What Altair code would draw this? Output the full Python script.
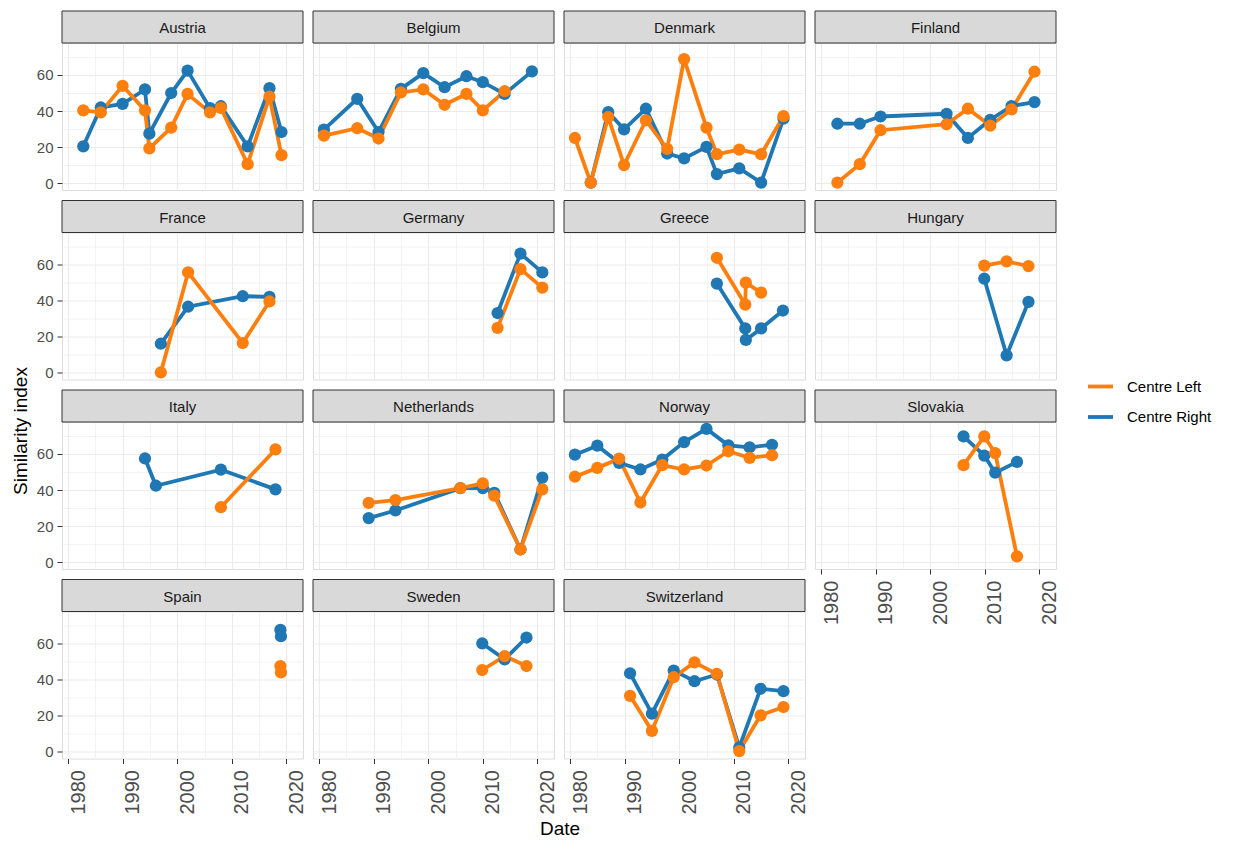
import altair as alt
import pandas as pd

# ---------------- data ----------------
SERIES = ["Centre Left", "Centre Right"]
SERIES_COLORS = ["#FF7F0E", "#1F77B4"]

COLUMNS = [
    ["Austria", "France", "Italy", "Spain"],
    ["Belgium", "Germany", "Netherlands", "Sweden"],
    ["Denmark", "Greece", "Norway", "Switzerland"],
    ["Finland", "Hungary", "Slovakia"],
]

austria_date = [1982.8, 1986.0, 1990.0, 1994.1, 1994.9, 1998.9, 2001.9, 2006.0, 2008.0, 2012.9, 2016.9, 2019.1]
austria_left = [40.4, 39.3, 54.0, 40.4, 19.3, 30.8, 49.5, 39.3, 41.8, 10.6, 48.0, 15.6]
austria_right = [20.5, 42.0, 44.0, 52.0, 27.5, 50.0, 62.4, 41.6, 42.7, 20.5, 52.7, 28.4]

belgium_date = [1980.9, 1987.0, 1990.9, 1995.0, 1999.1, 2003.0, 2007.0, 2010.0, 2014.0, 2019.0]
belgium_left = [26.4, 30.5, 24.8, 50.3, 52.0, 43.5, 49.5, 40.4, 51.0, None]
belgium_right = [29.7, 46.8, 28.4, 52.3, 61.0, 53.2, 59.3, 56.0, 49.5, 62.0]

denmark_date = [1980.9, 1983.8, 1987.0, 1989.9, 1993.9, 1997.8, 2000.9, 2005.0, 2006.9, 2011.0, 2015.0, 2019.1]
denmark_left = [25.1, 0.4, 36.7, 10.1, 34.9, 19.1, 68.8, 30.8, 16.1, 18.7, 16.1, 37.2]
denmark_right = [None, 0.4, 39.4, 29.9, 41.3, 16.5, 13.8, 20.2, 5.1, 8.3, 0.4, 35.8]

finland_date = [1983.0, 1987.1, 1990.9, 2003.0, 2006.9, 2011.0, 2014.9, 2019.1]
finland_left = [0.4, 10.6, 29.4, 32.7, 41.3, 31.9, 40.9, 61.8]
finland_right = [33.0, 33.0, 37.0, 38.5, 25.1, 35.2, 42.8, 45.0]

france_date = [1997.0, 2002.0, 2012.0, 2016.9]
france_left = [0.2, 55.6, 16.5, 39.5]
france_right = [16.1, 36.6, 42.4, 42.1]

germany_date = [2012.7, 2016.9, 2020.9]
germany_left = [24.9, 57.4, 47.2]
germany_right = [33.1, 66.0, 55.6]

greece_date = [2006.9, 2012.1, 2012.2, 2015.0, 2019.0]
greece_left = [63.7, 37.8, 49.9, 44.4, None]
greece_right = [49.4, 24.6, 18.2, 24.6, 34.5]

hungary_date = [2009.9, 2014.0, 2018.0]
hungary_left = [59.4, 61.7, 59.1]
hungary_right = [52.1, 9.7, 39.3]

italy_date = [1994.1, 1996.1, 2008.0, 2018.0]
italy_left = [None, None, 30.5, 62.5]
italy_right = [57.5, 42.4, 51.3, 40.4]

netherlands_date = [1989.1, 1994.0, 2005.9, 2010.0, 2012.1, 2016.9, 2020.9]
netherlands_left = [32.9, 34.5, 41.1, 43.7, 36.9, 7.1, 40.4]
netherlands_right = [24.5, 28.7, 41.1, 41.1, 38.5, 7.1, 46.9]

norway_date = [1980.9, 1985.0, 1989.0, 1992.9, 1996.9, 2000.9, 2005.0, 2009.0, 2012.9, 2017.0]
norway_left = [47.4, 52.3, 57.4, 33.1, 53.8, 51.4, 53.6, 61.5, 57.8, 59.3]
norway_right = [59.6, 64.6, 55.1, 51.4, 56.9, 66.6, 73.9, 64.8, 63.7, 65.1]

slovakia_date = [2006.1, 2009.9, 2011.9, 2015.9]
slovakia_left = [53.8, 69.7, 60.5, 3.3]
slovakia_right = [69.7, 59.1, 49.6, 55.6]

spain_date = [2018.9, 2019.0]
spain_left = [47.5, 44.0]
spain_right = [67.5, 64.0]

sweden_date = [2009.9, 2014.0, 2018.0]
sweden_left = [45.3, 53.0, 47.5]
sweden_right = [60.0, 51.2, 63.3]

switzerland_date = [1991.0, 1995.0, 1999.0, 2002.8, 2006.9, 2011.0, 2014.9, 2019.1]
switzerland_left = [31.0, 11.6, 41.3, 49.5, 43.1, 0.4, 20.2, 24.8]
switzerland_right = [43.5, 21.1, 45.0, 39.1, 42.8, 2.4, 34.9, 33.6]

X_TICKS = list(range(1980, 2021, 5))
Y_TICKS = list(range(0, 71, 10))

country_series = {
    "Austria": (austria_date, austria_left, austria_right),
    "Belgium": (belgium_date, belgium_left, belgium_right),
    "Denmark": (denmark_date, denmark_left, denmark_right),
    "Finland": (finland_date, finland_left, finland_right),
    "France": (france_date, france_left, france_right),
    "Germany": (germany_date, germany_left, germany_right),
    "Greece": (greece_date, greece_left, greece_right),
    "Hungary": (hungary_date, hungary_left, hungary_right),
    "Italy": (italy_date, italy_left, italy_right),
    "Netherlands": (netherlands_date, netherlands_left, netherlands_right),
    "Norway": (norway_date, norway_left, norway_right),
    "Slovakia": (slovakia_date, slovakia_left, slovakia_right),
    "Spain": (spain_date, spain_left, spain_right),
    "Sweden": (sweden_date, sweden_left, sweden_right),
    "Switzerland": (switzerland_date, switzerland_left, switzerland_right),
}

rows = []
for country, (dates, left, right) in country_series.items():
    for d, v in zip(dates, left):
        if v is not None:
            rows.append({"country": country, "series": "Centre Left", "date": d, "value": v})
    for d, v in zip(dates, right):
        if v is not None:
            rows.append({"country": country, "series": "Centre Right", "date": d, "value": v})
df = pd.DataFrame(rows)

# ---------------- styling ----------------
FONT = "Liberation Sans"
PW, PH, SH = 241, 147, 32
X_DOMAIN = [1978.9, 2023.04]
Y_DOMAIN = [-3.7, 77.7]
MAJOR_X = "datum.value % 10 === 0"
MAJOR_Y = "datum.value % 20 === 0"
NO_STROKE = alt.ViewBackground(stroke="transparent")

color_scale = alt.Scale(domain=SERIES, range=SERIES_COLORS)
LEGEND = alt.Legend(
    title=None, orient="none", legendX=1077, legendY=329,
    symbolType="stroke", symbolStrokeWidth=3.8, symbolSize=625,
    labelFont=FONT, labelFontSize=15, labelColor="#000000",
    labelOffset=12, rowPadding=7.5, padding=0,
)


def x_axis(show):
    kw = dict(values=X_TICKS, grid=True, gridColor="#EBEBEB",
              gridWidth={"condition": {"test": MAJOR_X, "value": 1.1}, "value": 0.6},
              domain=False, title=None)
    if show:
        kw.update(labels=True, format="d",
                  labelExpr=f"{MAJOR_X} ? datum.label : ''",
                  labelAngle=270, labelAlign="right", labelBaseline="top",
                  labelFont=FONT, labelFontSize=20, labelColor="#4D4D4D",
                  labelPadding=6, labelFlush=False, labelOverlap=False,
                  ticks=True, tickSize=5, tickWidth=1,
                  tickColor={"condition": {"test": MAJOR_X, "value": "#333333"}, "value": "transparent"})
    else:
        kw.update(labels=False, ticks=False)
    return alt.Axis(**kw)


def y_axis(show):
    kw = dict(values=Y_TICKS, grid=True, gridColor="#EBEBEB",
              gridWidth={"condition": {"test": MAJOR_Y, "value": 1.1}, "value": 0.6},
              domain=False, title=None)
    if show:
        kw.update(labels=True, labelExpr=f"{MAJOR_Y} ? datum.label : ''",
                  labelFont=FONT, labelFontSize=15, labelColor="#4D4D4D",
                  labelPadding=4, labelFlush=False, labelOverlap=False,
                  ticks=True, tickSize=5, tickWidth=1,
                  tickColor={"condition": {"test": MAJOR_Y, "value": "#333333"}, "value": "transparent"})
    else:
        kw.update(labels=False, ticks=False)
    return alt.Axis(**kw)


def panel(country, show_x, show_y):
    base = alt.Chart(df).transform_filter(alt.datum.country == country)
    x = alt.X("date:Q", scale=alt.Scale(domain=X_DOMAIN, nice=False, zero=False), axis=x_axis(show_x))
    y = alt.Y("value:Q", scale=alt.Scale(domain=Y_DOMAIN, nice=False, zero=False), axis=y_axis(show_y))
    layers = []
    for s in ["Centre Right", "Centre Left"]:
        layers.append(
            base.transform_filter(alt.datum.series == s)
            .mark_line(strokeWidth=3.8)
            .encode(x=x, y=y, color=alt.Color("series:N", scale=color_scale, legend=LEGEND))
        )
    for s in ["Centre Right", "Centre Left"]:
        layers.append(
            base.transform_filter(alt.datum.series == s)
            .mark_point(filled=True, size=150, opacity=1)
            .encode(x=x, y=y, color=alt.Color("series:N", scale=color_scale, legend=None))
        )
    # facet strip drawn just above the plot area
    lab = pd.DataFrame({"label": [country]})
    layers.append(
        alt.Chart(lab).mark_rect(fill="#D9D9D9", stroke="#333333", strokeWidth=1).encode(
            x=alt.value(0), x2=alt.value(PW), y=alt.value(-SH), y2=alt.value(0))
    )
    layers.append(
        alt.Chart(lab).mark_text(font=FONT, fontSize=15, color="#1A1A1A",
                                 align="center", baseline="middle").encode(
            x=alt.value(PW / 2), y=alt.value(-SH / 2 + 1), text="label:N")
    )
    return alt.layer(*layers).properties(width=PW, height=PH)


cols = []
for ci, names in enumerate(COLUMNS):
    cells = [panel(n, i == len(names) - 1, ci == 0) for i, n in enumerate(names)]
    # the first column's "0" labels reach 1px below each panel, so its gap is 1px smaller
    cols.append(alt.vconcat(*cells, spacing=7.5 if ci == 0 else 8.5))
grid = alt.hconcat(*cols, spacing=5)

ytitle = alt.Chart(pd.DataFrame({"t": ["Similarity index"]})).mark_text(
    angle=270, font=FONT, fontSize=19, color="#000000", align="center", baseline="middle"
).encode(text="t:N", x=alt.value(12), y=alt.value(388)).properties(width=22, height=740, view=NO_STROKE)

xtitle = alt.Chart(pd.DataFrame({"t": ["Date"]})).mark_text(
    font=FONT, fontSize=19, color="#000000", align="center", baseline="middle"
).encode(text="t:N", x=alt.value(551), y=alt.value(12.5)).properties(width=1048, height=28, view=NO_STROKE)

body = alt.hconcat(ytitle, grid, spacing=3)
chart = (
    alt.vconcat(body, xtitle, spacing=0)
    .properties(padding={"left": 0, "top": 2, "right": 0, "bottom": 0}, background="white")
    .configure_view(stroke="#333333", strokeWidth=1)
    .configure(font=FONT)
)

chart.save("out.html", embed_options={"renderer": "svg", "actions": False})
